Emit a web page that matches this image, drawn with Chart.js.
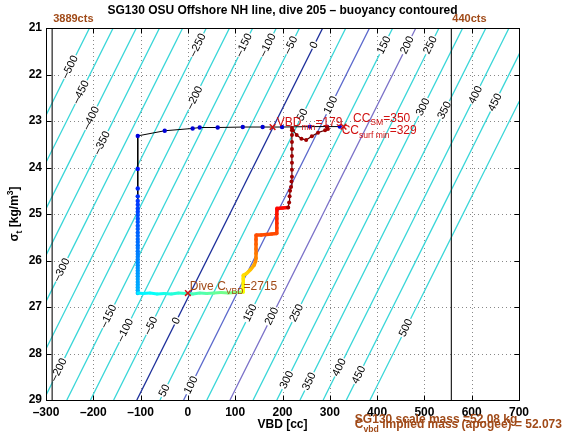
<!DOCTYPE html>
<html>
<head>
<meta charset="utf-8">
<script src="https://cdn.jsdelivr.net/npm/chart.js@4"></script>
<style>
  html, body { margin: 0; padding: 0; background: #fff; }
</style>
</head>
<body>
<canvas id="chart" width="570" height="439"></canvas>
<script>
// Axis ticks
const vbdTicks = [-300, -200, -100, 0, 100, 200, 300, 400, 500, 600, 700];
const sigmaTicks = [21, 22, 23, 24, 25, 26, 27, 28, 29];

// Buoyancy contours [g]: VBD [cc] where each one crosses sigma 21 (top) and sigma 29 (bottom)
const contourLevels = [-500, -450, -400, -350, -300, -250, -200, -150, -100, -50, 0, 50, 100, 150, 200, 250, 300, 350, 400, 450, 500];
const contourTopVBD = [-208, -158, -109, -60, -11, 39, 88, 137, 187, 236, 285, 334, 384, 433, 482, 531, 581, 630, 679, 728, 778];
const contourBottomVBD = [-600, -551, -502, -453, -404, -354, -305, -256, -206, -157, -108, -59, -9, 40, 89, 138, 188, 237, 286, 335, 385];

// Inline contour labels (level, sigma where the label sits)
const labelLevels = [-500, -450, -400, -350, -300, -250, -200, -200, -150, -150, -100, -100, -50, -50, 0, 0, 50, 50, 100, 100, 150, 150, 200, 200, 250, 250, 300, 300, 350, 350, 400, 400, 450, 450, 500];
const labelSigma = [21.84, 22.38, 22.94, 23.47, 26.2, 21.37, 22.5, 28.35, 21.37, 27.2, 21.37, 27.5, 21.37, 27.4, 21.37, 27.3, 22.87, 28.8, 22.66, 28.68, 21.37, 27.13, 21.37, 27.2, 21.37, 27.13, 22.7, 28.57, 22.77, 28.6, 22.44, 28.3, 22.6, 28.46, 27.45];

// Pump count limits
const countLineVBD = [-287, 557];
const countLineText = ["3889cts", "440cts"];

// Dive trace: descent (surface bleed then sink)
const descentVBD = [321, 294, 258, 199, 158, 116, 63, 25, 10, -49, -106, -106, -106, -106, -106, -106, -106, -106, -106, -106, -106, -106, -106, -106, -106, -106, -106, -106, -106, -106, -106, -106, -106, -106, -106, -106, -106, -106, -106, -106, -106, -106, -106, -106, -106];
const descentSigma = [23.12, 23.12, 23.12, 23.13, 23.13, 23.13, 23.14, 23.14, 23.16, 23.21, 23.32, 24.03, 24.45, 24.62, 24.72, 24.8, 24.88, 24.95, 25.02, 25.1, 25.17, 25.25, 25.32, 25.4, 25.47, 25.54, 25.6, 25.67, 25.73, 25.8, 25.86, 25.92, 25.98, 26.04, 26.1, 26.16, 26.22, 26.28, 26.34, 26.4, 26.46, 26.52, 26.58, 26.64, 26.7];

// Apogee pump
const apogeeVBD = [-106, -95, -80, -65, -50, -35, -20, -5, 10, 25, 40, 55, 70, 85, 100, 112, 117];
const apogeeSigma = [26.7, 26.71, 26.7, 26.72, 26.71, 26.72, 26.7, 26.71, 26.72, 26.7, 26.71, 26.7, 26.69, 26.7, 26.69, 26.68, 26.68];

// Ascent, stepped pumping
const ascentVBD = [117, 117, 117, 117, 117, 124, 132, 140, 143, 144, 144, 144, 144, 144, 144, 155, 166, 177, 188, 188, 188, 188, 188, 188, 200, 212];
const ascentSigma = [26.68, 26.6, 26.5, 26.4, 26.32, 26.28, 26.2, 26.1, 26.02, 25.95, 25.85, 25.75, 25.65, 25.55, 25.45, 25.45, 25.44, 25.43, 25.42, 25.3, 25.2, 25.1, 25.0, 24.88, 24.87, 24.86];

// Final climb and surfacing
const upperVBD = [212, 214, 215, 216, 218, 219, 220, 220, 220, 220, 220, 220, 220, 220, 220, 222, 230, 240, 250, 262, 275, 290, 296, 294];
const upperSigma = [24.86, 24.75, 24.62, 24.5, 24.42, 24.3, 24.2, 24.05, 23.9, 23.75, 23.6, 23.45, 23.3, 23.2, 23.15, 23.2, 23.3, 23.38, 23.41, 23.33, 23.25, 23.2, 23.17, 23.13];

// Marked points: VBD min, CC surf min, dive C_VBD
const markVBD = [179, 329, 0];
const markSigma = [23.13, 23.12, 26.7];

const RED = "#d01010";
const BROWN = "#a04a18";
const FONT = "'Liberation Sans', Arial, Helvetica, sans-serif";

function clamp(v) { return Math.max(0, Math.min(1, v)); }
function jet(t) {
    const r = clamp(1.5 - Math.abs(4 * t - 3));
    const g = clamp(1.5 - Math.abs(4 * t - 2));
    const b = clamp(1.5 - Math.abs(4 * t - 1));
    return "rgb(" + Math.round(r * 255) + "," + Math.round(g * 255) + "," + Math.round(b * 255) + ")";
}
// piecewise colour ramp for the stepped ascent (by sigma)
function ascentT(s) {
    const ks = [26.7, 26.3, 26.0, 25.45, 24.87];
    const ts = [0.62, 0.66, 0.74, 0.80, 0.87];
    if (s >= ks[0]) return ts[0];
    for (let i = 1; i < ks.length; i++) {
        if (s >= ks[i]) return ts[i - 1] + (ks[i - 1] - s) / (ks[i - 1] - ks[i]) * (ts[i] - ts[i - 1]);
    }
    return ts[ts.length - 1];
}

function contourColor(level) {
    if (level === 0) return "#1c2f9a";
    if (level === 100) return "#5a68cc";
    if (level === 200) return "#7a70c8";
    return "#38d6d8";
}

function pts(xs, ys) { return xs.map((x, i) => ({ x: x, y: ys[i] })); }

const datasets = [];

// trace drawn first in list so it sits on top
datasets.push({
    label: "marks", data: pts(markVBD, markSigma), showLine: false,
    pointStyle: "crossRot", pointRadius: 4, borderColor: RED, borderWidth: 1.5, order: 0
});
datasets.push({
    label: "upper", data: pts(upperVBD, upperSigma), showLine: true,
    borderColor: "#5a0000", borderWidth: 1.2, pointRadius: 2, pointBorderWidth: 0,
    pointBackgroundColor: "#a00000", order: 1
});
datasets.push({
    label: "ascent", data: pts(ascentVBD, ascentSigma), showLine: true, borderWidth: 3.5,
    pointRadius: 1.8, pointBorderWidth: 0,
    pointBackgroundColor: ctx => jet(ascentT(ctx.raw.y)),
    segment: { borderColor: ctx => jet(ascentT((ctx.p0.parsed.y + ctx.p1.parsed.y) / 2)) },
    borderColor: jet(0.7), order: 2
});
datasets.push({
    label: "apogee", data: pts(apogeeVBD, apogeeSigma), showLine: true, borderWidth: 3,
    pointRadius: 1.5, pointBorderWidth: 0,
    pointBackgroundColor: ctx => jet(0.36 + (ctx.raw.x + 106) / 223 * 0.16),
    segment: { borderColor: ctx => jet(0.36 + (ctx.p0.parsed.x + 106) / 223 * 0.16) },
    borderColor: jet(0.4), order: 3
});
datasets.push({
    label: "descent", data: pts(descentVBD, descentSigma), showLine: true,
    borderColor: "#000", borderWidth: 1, pointRadius: 2.2, pointBorderWidth: 0,
    pointBackgroundColor: ctx => jet(0.08 + (ctx.raw.y - 23.1) / 3.6 * 0.22), order: 4
});
countLineVBD.forEach((v, i) => {
    datasets.push({
        label: countLineText[i], data: [{ x: v, y: 21 }, { x: v, y: 29 }], showLine: true,
        borderColor: "#222", borderWidth: 1.2, pointRadius: 0, order: 5
    });
});
const firstContour = datasets.length;
contourLevels.forEach((lev, i) => {
    datasets.push({
        label: "B" + lev, data: [{ x: contourTopVBD[i], y: 21 }, { x: contourBottomVBD[i], y: 29 }],
        showLine: true, borderColor: contourColor(lev), borderWidth: 1.3, pointRadius: 0, order: 10
    });
});

// draw text with sub/superscripts; parts = [[text, "", "sub" or "sup"], ...]
function richWidth(ctx, parts, size, weight) {
    let w = 0;
    parts.forEach(p => {
        const s = p[1] ? size * 0.72 : size;
        ctx.font = weight + " " + s + "px " + FONT;
        w += ctx.measureText(p[0]).width;
    });
    return w;
}
function drawRich(ctx, x, y, parts, size, weight, color) {
    ctx.fillStyle = color;
    ctx.textBaseline = "middle";
    ctx.textAlign = "left";
    let cx = x;
    parts.forEach(p => {
        const s = p[1] ? size * 0.72 : size;
        const dy = p[1] === "sub" ? size * 0.4 : (p[1] === "sup" ? -size * 0.4 : 0);
        ctx.font = weight + " " + s + "px " + FONT;
        ctx.fillText(p[0], cx, y + dy);
        cx += ctx.measureText(p[0]).width;
    });
}

const texts = [
    { x: 188, y: 23.04, parts: [["VBD", ""], ["min", "sub"], ["=179", ""]], color: RED, size: 12, weight: "normal" },
    { x: 349, y: 22.94, parts: [["CC", ""], ["SM", "sub"], ["=350", ""]], color: RED, size: 12, weight: "normal" },
    { x: 325, y: 23.21, parts: [["CC", ""], ["surf min", "sub"], ["=329", ""]], color: RED, size: 12, weight: "normal" },
    { x: 4, y: 26.57, parts: [["Dive C", ""], ["VBD", "sub"], ["=2715", ""]], color: BROWN, size: 12, weight: "normal" },
    { x: 353, y: 29.43, parts: [["SG130 scale mass =52.08 kg", ""]], color: BROWN, size: 12, weight: "bold" },
    { x: 353, y: 29.54, parts: [["C", ""], ["vbd", "sub"], [" implied mass (apogee) = 52.073", ""]], color: BROWN, size: 12, weight: "bold" }
];

const decor = {
    id: "decor",
    beforeDatasetsDraw(chart) {
        const ctx = chart.ctx, a = chart.chartArea;
        const xs = chart.scales.x, ys = chart.scales.y;
        ctx.save();
        ctx.strokeStyle = "#888";
        ctx.lineWidth = 1;
        ctx.setLineDash([1, 3]);
        vbdTicks.forEach(v => {
            const px = Math.round(xs.getPixelForValue(v)) + 0.5;
            if (px <= a.left + 1 || px >= a.right - 1) return;
            ctx.beginPath(); ctx.moveTo(px, a.top); ctx.lineTo(px, a.bottom); ctx.stroke();
        });
        sigmaTicks.forEach(v => {
            const py = Math.round(ys.getPixelForValue(v)) + 0.5;
            if (py <= a.top + 1 || py >= a.bottom - 1) return;
            ctx.beginPath(); ctx.moveTo(a.left, py); ctx.lineTo(a.right, py); ctx.stroke();
        });
        ctx.restore();
    },
    afterDatasetDraw(chart, args) {
        if (args.index !== firstContour) return;
        // contour labels, drawn right after the last contour line
        const ctx = chart.ctx, a = chart.chartArea;
        const xs = chart.scales.x, ys = chart.scales.y;
        ctx.save();
        ctx.beginPath(); ctx.rect(a.left, a.top, a.right - a.left, a.bottom - a.top); ctx.clip();
        labelLevels.forEach((lev, i) => {
            const k = contourLevels.indexOf(lev);
            const x0 = xs.getPixelForValue(contourTopVBD[k]), y0 = ys.getPixelForValue(21);
            const x1 = xs.getPixelForValue(contourBottomVBD[k]), y1 = ys.getPixelForValue(29);
            const py = ys.getPixelForValue(labelSigma[i]);
            const px = x0 + (py - y0) / (y1 - y0) * (x1 - x0);
            const ang = Math.atan2(y0 - y1, x0 - x1);
            const txt = String(lev).replace("-", "\u2013");
            ctx.save();
            ctx.translate(px, py);
            ctx.rotate(ang);
            ctx.font = "11px " + FONT;
            const w = ctx.measureText(txt).width;
            ctx.fillStyle = "#fff";
            ctx.fillRect(-w / 2 - 1, -4, w + 2, 8);
            ctx.fillStyle = "#000";
            ctx.textAlign = "center";
            ctx.textBaseline = "middle";
            ctx.fillText(txt, 0, 0);
            ctx.restore();
        });
        ctx.restore();
    },
    afterDraw(chart) {
        const ctx = chart.ctx, a = chart.chartArea;
        const xs = chart.scales.x, ys = chart.scales.y;
        ctx.save();
        // axes box and inward ticks
        ctx.strokeStyle = "#000";
        ctx.lineWidth = 1;
        ctx.setLineDash([]);
        const L = Math.round(a.left) + 0.5, R = Math.round(a.right) + 0.5;
        const T = Math.round(a.top) + 0.5, B = Math.round(a.bottom) + 0.5;
        ctx.strokeRect(L, T, R - L, B - T);
        ctx.beginPath();
        vbdTicks.forEach(v => {
            const px = Math.round(xs.getPixelForValue(v)) + 0.5;
            ctx.moveTo(px, B); ctx.lineTo(px, B - 5);
            ctx.moveTo(px, T); ctx.lineTo(px, T + 5);
        });
        sigmaTicks.forEach(v => {
            const py = Math.round(ys.getPixelForValue(v)) + 0.5;
            ctx.moveTo(L, py); ctx.lineTo(L + 5, py);
            ctx.moveTo(R, py); ctx.lineTo(R - 5, py);
        });
        ctx.stroke();

        // title
        ctx.fillStyle = "#000";
        ctx.font = "bold 12px " + FONT;
        ctx.textAlign = "center";
        ctx.textBaseline = "middle";
        ctx.fillText("SG130 OSU Offshore NH line, dive 205 \u2013 buoyancy contoured", (a.left + a.right) / 2, 11);

        // x label
        ctx.fillText("VBD [cc]", (a.left + a.right) / 2, 425);

        // y label with sub/superscript
        const yparts = [["\u03c3", ""], ["t", "sub"], [" [kg/m", ""], ["3", "sup"], ["]", ""]];
        const yw = richWidth(ctx, yparts, 12, "bold");
        ctx.save();
        ctx.translate(15, (a.top + a.bottom) / 2);
        ctx.rotate(-Math.PI / 2);
        drawRich(ctx, -yw / 2, 0, yparts, 12, "bold", "#000");
        ctx.restore();

        // count labels above the plot
        countLineVBD.forEach((v, i) => {
            drawRich(ctx, xs.getPixelForValue(v) + 1, a.top - 9, [[countLineText[i], ""]], 11, "bold", BROWN);
        });

        // annotations
        texts.forEach(t => {
            drawRich(ctx, xs.getPixelForValue(t.x), ys.getPixelForValue(t.y), t.parts, t.size, t.weight, t.color);
        });
        ctx.restore();
    }
};

const tickFont = { family: FONT, size: 12, weight: "bold" };
const fmt = v => String(v).replace("-", "\u2013");

new Chart(document.getElementById("chart"), {
    type: "scatter",
    data: { datasets: datasets },
    options: {
        responsive: false,
        animation: false,
        events: [],
        layout: { padding: { top: 28, right: 51, left: 0, bottom: 0 } },
        plugins: { legend: { display: false }, tooltip: { enabled: false }, title: { display: false } },
        scales: {
            x: {
                type: "linear", min: -300, max: 700,
                afterBuildTicks: s => { s.ticks = vbdTicks.map(v => ({ value: v })); },
                afterFit: s => { s.height = 39; },
                grid: { display: false, drawTicks: false },
                border: { display: false },
                ticks: { padding: 5, font: tickFont, color: "#000", callback: fmt, maxRotation: 0, autoSkip: false }
            },
            y: {
                type: "linear", min: 21, max: 29, reverse: true,
                afterBuildTicks: s => { s.ticks = sigmaTicks.map(v => ({ value: v })); },
                afterFit: s => { s.width = 46; },
                grid: { display: false, drawTicks: false },
                border: { display: false },
                ticks: { padding: 4, font: tickFont, color: "#000", callback: fmt, autoSkip: false }
            }
        }
    },
    plugins: [decor]
});
</script>
</body>
</html>
